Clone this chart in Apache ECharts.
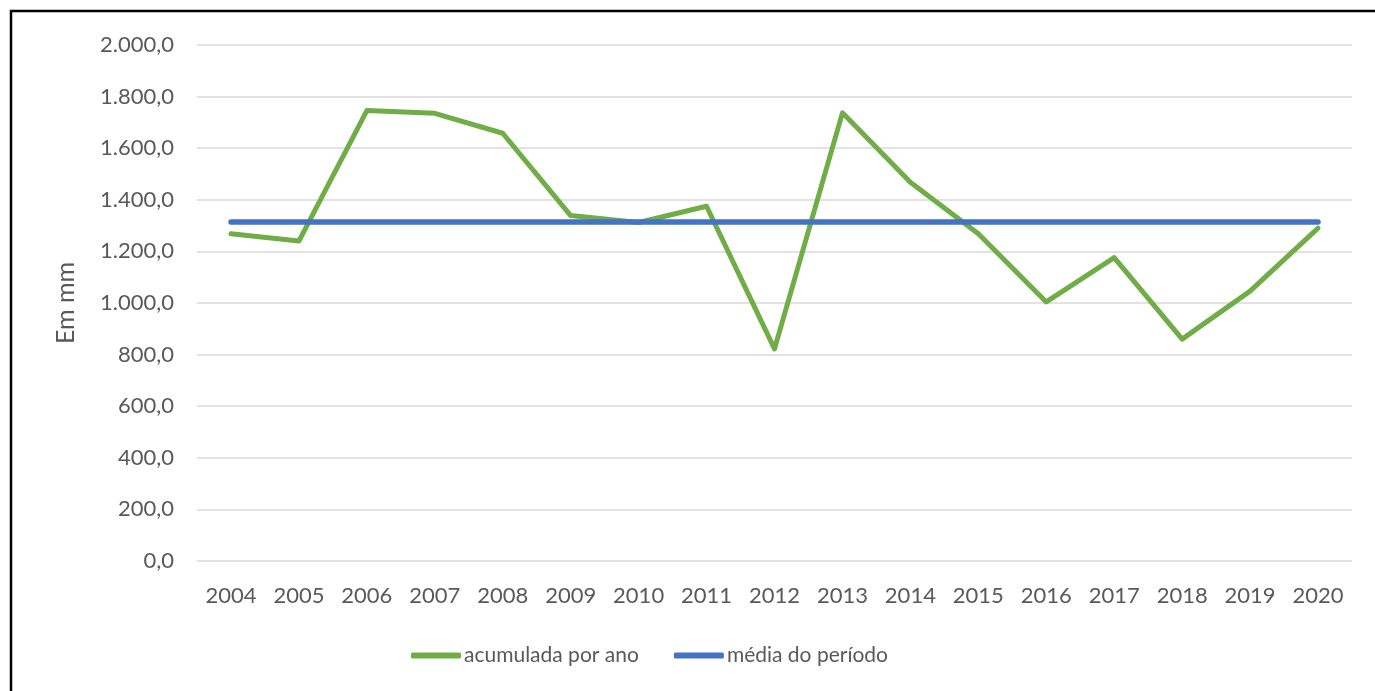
<!DOCTYPE html>
<html>
<head>
<meta charset="utf-8">
<script src="https://cdn.jsdelivr.net/npm/echarts@6/dist/echarts.min.js"></script>
<style>
  html, body { margin: 0; padding: 0; background: #fff; }
  #chart { width: 1375px; height: 691px; }
</style>
</head>
<body>
<div id="chart"></div>
<script>
const anos = ['2004', '2005', '2006', '2007', '2008', '2009', '2010', '2011', '2012',
              '2013', '2014', '2015', '2016', '2017', '2018', '2019', '2020'];
const acumulada = [1268, 1240, 1746, 1735, 1658, 1339, 1312, 1375, 822,
                   1737, 1468, 1268, 1004, 1176, 860, 1046, 1290];
const media = [1314, 1314, 1314, 1314, 1314, 1314, 1314, 1314, 1314,
               1314, 1314, 1314, 1314, 1314, 1314, 1314, 1314];

const fonte = 'Lato, "Open Sans", sans-serif';
const cinza = '#595959';

// formato pt-BR: 2.000,0
function formatarBR(v) {
    const partes = v.toFixed(1).split('.');
    const inteiro = partes[0].replace(/\B(?=(\d{3})+(?!\d))/g, '.');
    return inteiro + ',' + partes[1];
}

const grafico = echarts.init(document.getElementById('chart'));

grafico.setOption({
    animation: false,
    graphic: [{
        type: 'rect',
        shape: { x: 11, y: 11, width: 1420, height: 720 },
        style: { fill: 'none', stroke: '#000', lineWidth: 2.5 },
        silent: true
    }],
    grid: { left: 197, right: 23, top: 45, bottom: 130 },
    legend: {
        bottom: 20,
        left: 406,
        icon: 'roundRect',
        itemWidth: 50,
        itemHeight: 6,
        itemGap: 35,
        textStyle: { color: cinza, fontSize: 21, fontFamily: fonte, padding: [0, 0, 0, -2] }
    },
    xAxis: {
        type: 'category',
        data: anos,
        boundaryGap: true,
        axisLine: { show: false },
        axisTick: { show: false },
        axisLabel: { color: cinza, fontSize: 22, fontFamily: fonte, margin: 24 }
    },
    yAxis: {
        type: 'value',
        min: 0,
        max: 2000,
        interval: 200,
        name: 'Em mm',
        nameLocation: 'middle',
        nameGap: 119,
        nameRotate: 90,
        nameTextStyle: { color: cinza, fontSize: 25, fontFamily: fonte },
        axisLine: { show: false },
        axisTick: { show: false },
        splitLine: { lineStyle: { color: '#d9d9d9', width: 1.5 } },
        axisLabel: {
            color: cinza, fontSize: 22, fontFamily: fonte, margin: 23,
            formatter: v => formatarBR(v)
        }
    },
    series: [
        {
            name: 'acumulada por ano',
            type: 'line',
            data: acumulada,
            symbol: 'none',
            lineStyle: { color: '#70ad47', width: 5, cap: 'round', join: 'round' },
            itemStyle: { color: '#70ad47' },
            z: 2
        },
        {
            name: 'média do período',
            type: 'line',
            data: media,
            symbol: 'none',
            lineStyle: { color: '#4472c4', width: 5.5, cap: 'round', join: 'round' },
            itemStyle: { color: '#4472c4' },
            z: 3
        }
    ]
});
</script>
</body>
</html>
